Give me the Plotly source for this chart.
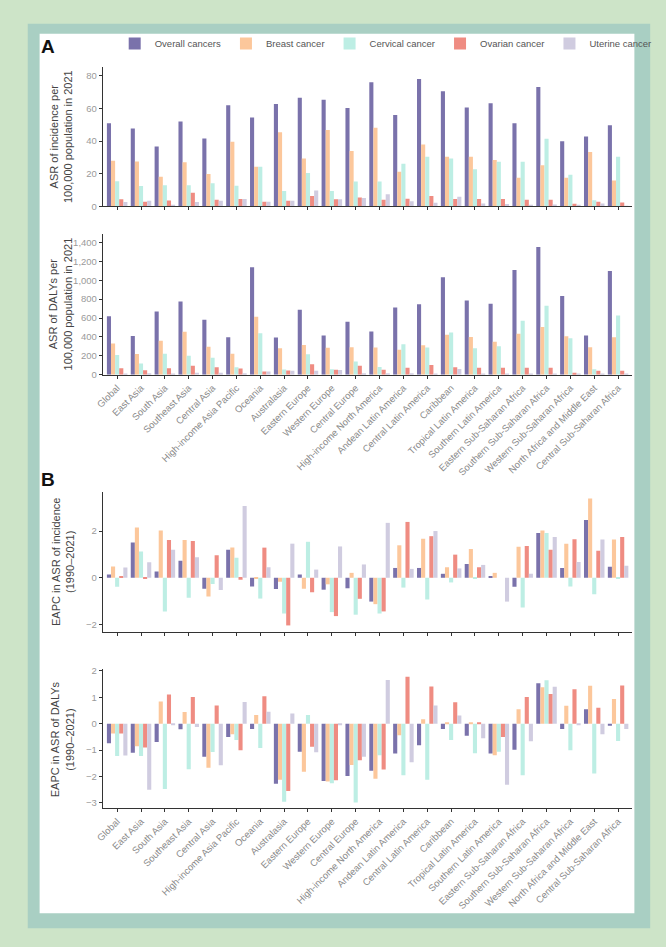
import plotly.graph_objects as go

regions = ["Global", "East Asia", "South Asia", "Southeast Asia", "Central Asia",
           "High-income Asia Pacific", "Oceania", "Australasia", "Eastern Europe",
           "Western Europe", "Central Europe", "High-income North America",
           "Andean Latin America", "Central Latin America", "Caribbean",
           "Tropical Latin America", "Southern Latin America", "Eastern Sub-Saharan Africa",
           "Southern Sub-Saharan Africa", "Western Sub-Saharan Africa",
           "North Africa and Middle East", "Central Sub-Saharan Africa"]

series_names = ["Overall cancers", "Breast cancer", "Cervical cancer", "Ovarian cancer", "Uterine cancer"]

# Panel A: ASR of incidence per 100,000 (2021)
inc_overall = [51, 47.8, 36.8, 52, 41.7, 62, 54.5, 62.8, 66.6, 65.4, 60.3, 76.1, 56, 78.1, 70.6, 60.7, 63.2, 51, 73.3, 39.9, 42.9, 49.8]
inc_breast = [28, 27.5, 18.2, 27, 19.8, 39.7, 24.3, 45.5, 29.4, 46.8, 34, 48.2, 21.3, 37.9, 30.4, 30.4, 28.5, 17.6, 25.3, 17.6, 33.4, 15.8]
inc_cervical = [15.4, 12.5, 13, 13, 14.2, 12.6, 24.3, 9.5, 20.4, 9.5, 15.2, 15.2, 26.1, 30.4, 29.4, 22.7, 27.3, 27.3, 41.5, 19.4, 3.8, 30.4]
inc_ovarian = [4.3, 2.8, 3.6, 8.3, 4, 4.5, 2.8, 3.4, 6.3, 4.3, 5.5, 4, 4.7, 6.3, 4.5, 4.5, 4.5, 4, 4, 1.6, 2.8, 2.4]
inc_uterine = [2.6, 3.4, 0.6, 2.6, 3.4, 4.5, 2.8, 3.4, 9.7, 4.3, 5.1, 7.5, 3.2, 2.2, 5.9, 1.8, 1.4, 0.8, 1.2, 0.6, 1.8, 0.4]

# Panel A: ASR of DALYs per 100,000 (2021)
daly_overall = [620, 409, 670, 776, 583, 398, 1137, 393, 689, 415, 560, 458, 712, 745, 1032, 785, 752, 1109, 1351, 832, 416, 1098]
daly_breast = [330, 220, 361, 455, 297, 222, 614, 280, 316, 285, 291, 288, 264, 312, 423, 399, 350, 434, 506, 406, 291, 396]
daly_cervical = [210, 120, 222, 200, 180, 80, 440, 56, 218, 58, 139, 83, 323, 288, 448, 281, 302, 570, 731, 385, 59, 627]
daly_ovarian = [68, 47, 70, 94, 78, 65, 35, 45, 110, 52, 94, 52, 73, 104, 80, 73, 73, 73, 73, 21, 42, 42]
daly_uterine = [14, 16, 12, 22, 21, 15, 35, 42, 42, 50, 17, 17, 17, 14, 62, 14, 14, 10, 10, 7, 10, 7]

# Panel B: EAPC in ASR of incidence (1990-2021)
eapc_inc_overall = [0.14, 1.51, 0.27, 0.73, -0.47, 1.2, -0.37, -0.48, 0.14, -0.51, -0.45, -1.02, 0.42, 0.42, 0.17, 0.59, 0.07, -0.38, 1.92, 0.42, 2.47, 0.47]
eapc_inc_breast = [0.48, 2.15, 2.02, 1.62, -0.8, 1.3, -0.02, -0.17, -0.47, -0.28, 0.21, -1.13, 1.39, 1.67, 0.45, 1.23, 0.21, 1.33, 2.02, 1.46, 3.39, 1.64]
eapc_inc_cervical = [-0.38, 1.12, -1.44, -0.85, -0.27, 0.86, -0.89, -1.53, 1.54, -1.47, -1.58, -1.53, -0.42, -0.93, -0.2, -0.03, 0.0, -1.27, 1.92, -0.37, -0.71, -0.03]
eapc_inc_ovarian = [0.06, -0.04, 1.62, 1.57, 0.96, -0.08, 1.29, -2.04, -0.62, -1.64, -0.9, -1.44, 2.39, 1.78, 0.99, 0.45, 0.0, 1.36, 1.2, 1.65, 1.16, 1.74]
eapc_inc_uterine = [0.44, 0.66, 1.2, 0.88, -0.52, 3.07, 0.45, 1.46, 0.35, 1.34, 0.57, 2.35, 0.38, 2.0, 0.4, 0.55, -1.02, 0.17, 1.74, 0.68, 1.64, 0.51]

# Panel B: EAPC in ASR of DALYs (1990-2021)
eapc_daly_overall = [-0.74, -1.1, -0.69, -0.21, -1.25, -0.5, -0.2, -2.27, -1.06, -2.17, -1.98, -1.78, -1.13, -0.81, -0.2, -0.45, -1.13, -0.98, 1.53, -0.2, 0.55, -0.08]
eapc_daly_breast = [-0.37, -0.85, 0.84, 0.44, -1.67, -0.4, 0.33, -2.12, -1.82, -2.19, -1.56, -2.08, -0.44, 0.17, 0.05, 0.02, -1.19, 0.55, 1.38, 0.68, 1.44, 0.94]
eapc_daly_cervical = [-1.22, -1.22, -2.47, -1.72, -1.07, -0.62, -0.92, -2.95, 0.33, -2.25, -2.98, -1.19, -1.95, -2.12, -0.62, -1.12, -1.06, -1.95, 1.65, -1.0, -1.88, -0.65]
eapc_daly_ovarian = [-0.37, -0.9, 1.11, 1.01, 0.69, -1.0, 1.04, -2.55, -0.87, -2.14, -1.38, -1.73, 1.78, 1.41, 0.81, 0.03, -0.5, 1.01, 1.13, 1.31, 0.61, 1.45]
eapc_daly_uterine = [-1.2, -2.5, -0.05, -0.12, -1.57, 0.82, 0.45, 0.39, -1.08, -0.05, -1.25, 1.66, -1.46, 0.69, 0.31, -0.55, -2.31, -0.66, 1.4, -0.03, -0.4, -0.2]

colors = ["#7a72ab", "#fcc79b", "#bdeee4", "#ef8c82", "#d0cce0"]

W, H = 666, 947
FONT = "Liberation Sans, Arial, sans-serif"

panels = [
    ("x", "y", [inc_overall, inc_breast, inc_cervical, inc_ovarian, inc_uterine]),
    ("x2", "y2", [daly_overall, daly_breast, daly_cervical, daly_ovarian, daly_uterine]),
    ("x3", "y3", [eapc_inc_overall, eapc_inc_breast, eapc_inc_cervical, eapc_inc_ovarian, eapc_inc_uterine]),
    ("x4", "y4", [eapc_daly_overall, eapc_daly_breast, eapc_daly_cervical, eapc_daly_ovarian, eapc_daly_uterine]),
]

fig = go.Figure()
for pi, (xa, ya, data) in enumerate(panels):
    for si, vals in enumerate(data):
        fig.add_trace(go.Bar(
            x=regions, y=vals, name=series_names[si], marker_color=colors[si],
            marker_line_width=0, xaxis=xa, yaxis=ya,
            showlegend=(pi == 0), legendgroup=series_names[si],
        ))

def px_x(p):
    return p / W

def px_y(p):
    return 1 - p / H

xdom = [px_x(96), px_x(632)]
ydoms = [
    [px_y(204.3), px_y(63.3)],
    [px_y(374.3), px_y(232.7)],
    [px_y(634), px_y(492.7)],
    [px_y(812), px_y(671.7)],
]
yranges = [[0, 85.7], [0, 1484], [-2.32, 3.67], [-3.2, 2.06]]
ytickvals = [[0, 20, 40, 60, 80], [0, 200, 400, 600, 800, 1000, 1200, 1400], [-2, 0, 2], [-3, -2, -1, 0, 1, 2]]

axis_common = dict(
    showline=True, linecolor="#333333", linewidth=1.1, ticks="outside", ticklen=3,
    tickcolor="#333333", tickwidth=1, showgrid=False, zeroline=False,
)

layout = {}
for i in range(4):
    sx = "" if i == 0 else str(i + 1)
    show_labels = i in (1, 3)
    layout["xaxis" + sx] = dict(
        axis_common, domain=xdom, anchor="y" + sx, range=[-0.6, 21.6],
        showticklabels=show_labels, tickangle=-45,
        tickfont=dict(family=FONT, size=9.5, color="#8a8a8a"),
        categoryorder="array", categoryarray=regions,
    )
    layout["yaxis" + sx] = dict(
        axis_common, domain=ydoms[i], anchor="x" + sx, range=yranges[i],
        tickvals=ytickvals[i], tickformat=",",
        tickfont=dict(family=FONT, size=9.5, color="#9a9a9a"),
    )

fig.update_layout(**layout)

fig.update_layout(
    width=W, height=H, autosize=False,
    margin=dict(l=0, r=0, t=0, b=0),
    paper_bgcolor="#cde4c8", plot_bgcolor="rgba(0,0,0,0)",
    barmode="group", bargap=0.14, bargroupgap=0,
    font=dict(family=FONT, color="#444444"),
    legend=dict(
        orientation="h", x=px_x(108), y=px_y(40), xanchor="left", yanchor="middle",
        font=dict(family=FONT, size=9.5, color="#555555"),
        bgcolor="rgba(0,0,0,0)", itemwidth=30, traceorder="normal",
        itemclick=False, tracegroupgap=0,
    ),
    shapes=[
        dict(type="rect", xref="paper", yref="paper", x0=px_x(20), x1=px_x(650),
             y0=px_y(933), y1=px_y(20), fillcolor="#a9cfc3", line_width=0, layer="below"),
        dict(type="rect", xref="paper", yref="paper", x0=px_x(32), x1=px_x(634),
             y0=px_y(918), y1=px_y(30), fillcolor="#ffffff", line_width=0, layer="below"),
    ],
)

ann = []
ann.append(dict(text="<b>A</b>", x=px_x(31), y=px_y(43), xref="paper", yref="paper",
                xanchor="left", yanchor="middle", showarrow=False,
                font=dict(family=FONT, size=19, color="#111111")))
ann.append(dict(text="<b>B</b>", x=px_x(31), y=px_y(480), xref="paper", yref="paper",
                xanchor="left", yanchor="middle", showarrow=False,
                font=dict(family=FONT, size=19, color="#111111")))
titles = [
    ("ASR of incidence per<br>100,000 population in 2021", 134, 53),
    ("ASR of DALYs per<br>100,000 population in 2021", 303, 53),
    ("EAPC in ASR of incidence<br>(1990\u20132021)", 563, 55),
    ("EAPC in ASR of DALYs<br>(1990\u20132021)", 742, 55),
]
for t, yc, xc in titles:
    ann.append(dict(text=t, x=px_x(xc), y=px_y(yc), xref="paper", yref="paper",
                    xanchor="center", yanchor="middle", showarrow=False, textangle=-90,
                    font=dict(family=FONT, size=11, color="#444444")))
fig.update_layout(annotations=ann)

fig.write_html(
    "out.html",
    config={"displayModeBar": False},
    post_script="document.body.style.margin='0';document.body.style.padding='0';"
                "document.body.style.overflow='hidden';",
)
